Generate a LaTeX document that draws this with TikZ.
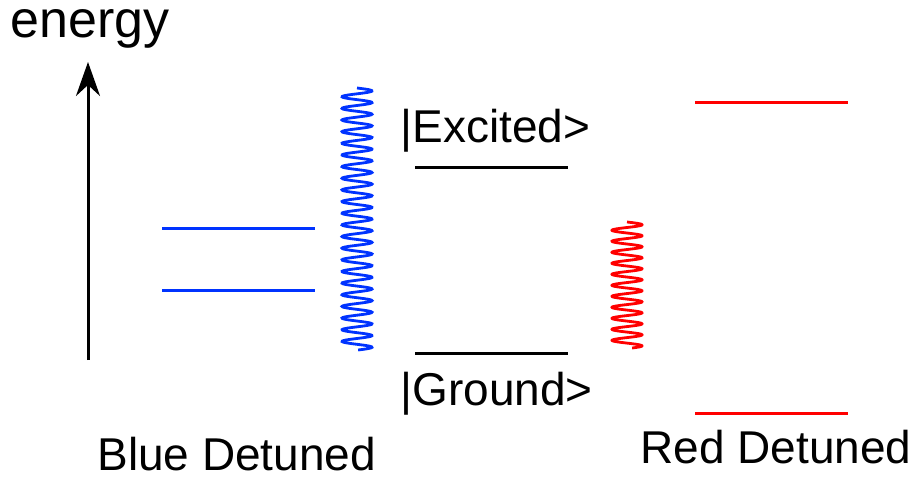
\documentclass[tikz,border=0pt]{standalone}
\usepackage{fontspec}
\setmainfont{Liberation Sans}
\usetikzlibrary{arrows.meta}
\definecolor{detblue}{RGB}{0,51,255}
\begin{document}
\begin{tikzpicture}[x=.5pt, y=-.5pt,
    level/.style={line width=1.5pt},
    wave/.style={line width=1.4pt, smooth, samples=500},
    lbl/.style={anchor=base west, inner sep=0pt, font=\fontsize{23}{28}\selectfont}]
  \useasboundingbox (0, 0) rectangle (914, 481);
  % energy axis
  \draw[-{Stealth[length=17pt, width=12pt]}, line width=1.5pt] (88, 360) -- (88, 62);
  \node[lbl, font=\fontsize{26}{31}\selectfont] (energy) at (10, 38) {energy};
  % levels
  \foreach \y in {228, 290} {
      \draw[level, detblue] (162, \y) -- (315, \y);
    }
  \foreach \y in {167, 353} {
      \draw[level] (415, \y) -- (568, \y);
    }
  \foreach \y in {103, 413} {
      \draw[level, red] (695, \y) -- (848, \y);
    }
  % light fields
  \draw[wave, detblue, domain=88:350] plot ({357 + 15 * sin((\x - 88) * 30.9)}, \x);
  \draw[wave, red, domain=222:348] plot ({627 + 15 * sin((\x - 222) * 32.7)}, \x);
  % labels
  \node[lbl] (excited) at (400, 142) {|Excited>};
  \node[lbl] (ground) at (400, 405) {|Ground>};
  \node[lbl] (bluedet) at (97, 470) {Blue Detuned};
  \node[lbl] (reddet) at (640, 463) {Red Detuned};
\end{tikzpicture}
\end{document}
